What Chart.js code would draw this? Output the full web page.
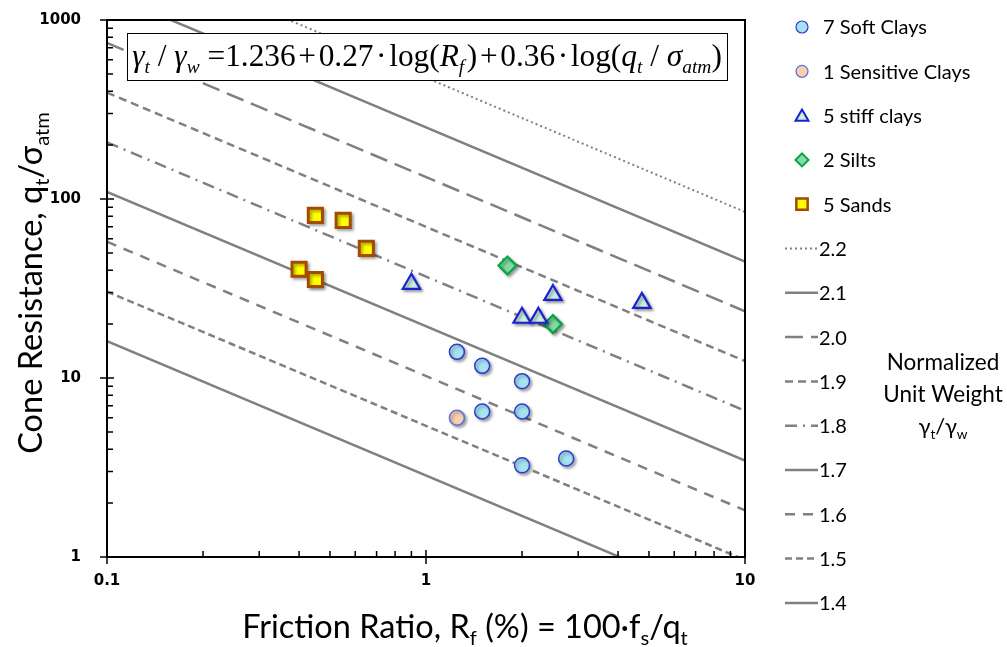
<!DOCTYPE html>
<html><head><meta charset="utf-8">
<script src="https://cdn.jsdelivr.net/npm/chart.js@4.4.1/dist/chart.umd.min.js"></script>
<style>html,body{margin:0;padding:0;background:#fff;}#wrap{width:1007px;height:647px;position:relative;}</style>
</head><body><div id="wrap"><canvas id="c" width="1007" height="647"></canvas></div>
<script>
// ---- data ----
const softClayRf = [1.25, 1.5, 2.0, 1.5, 2.0, 2.0, 2.75];
const softClayQt = [14.0, 11.7, 9.6, 6.5, 6.5, 3.25, 3.55];
const sensClayRf = [1.25];
const sensClayQt = [6.0];
const stiffClayRf = [0.9, 2.5, 2.0, 2.25, 4.75];
const stiffClayQt = [33.6, 29.1, 21.7, 21.7, 26.3];
const siltRf = [1.8, 2.5];
const siltQt = [42.5, 20.0];
const sandRf = [0.45, 0.55, 0.65, 0.40, 0.45];
const sandQt = [81, 76, 53, 40.5, 35.5];
const seriesLabels = ['7 Soft Clays', '1 Sensitive Clays', '5 stiff clays', '2 Silts', '5 Sands'];
const unitWeights = ['2.2', '2.1', '2.0', '1.9', '1.8', '1.7', '1.6', '1.5', '1.4'];
const lineRf = [0.1, 10];
const lineQtAtStart = [2678, 1413, 745, 393, 207.4, 109.4, 57.7, 30.4, 16.05];
const lineQtAtEnd = [84.7, 44.7, 23.6, 12.43, 6.56, 3.46, 1.824, 0.962, 0.507];
const xTicks = [0.1, 1, 10];
const yTicks = [1, 10, 100, 1000];

// ---- styles ----
const GRAY = '#808080';
const lineDashes = [[2, 3], [], [18, 8], [8, 5], [12, 6, 2, 6], [], [10, 8], [7, 4], []];
const lineWidths = [2, 2.5, 2.5, 2.5, 2.5, 2.5, 2.5, 2.5, 2.5];
const markerStyles = [
  {pointStyle: 'circle', r: 7.5, bg: '#A6E3EF', bc: '#2B3BD6', bw: 1.5, lr: 6},
  {pointStyle: 'circle', r: 7.5, bg: '#F9CFAE', bc: '#5B6FE0', bw: 1.5, lr: 6},
  {pointStyle: 'triangle', r: 10, bg: '#CDEFDD', bc: '#1B22D0', bw: 2.2, lr: 7.5},
  {pointStyle: 'rectRot', r: 9, bg: '#83DCA3', bc: '#07A34A', bw: 2.2, lr: 6.5},
  {pointStyle: 'rect', r: 10, bg: '#FFFF00', bc: '#A34A05', bw: 3, lr: 8}
];

const pts = (xs, ys) => xs.map((x, i) => ({x: x, y: ys[i]}));
const markerData = [pts(softClayRf, softClayQt), pts(sensClayRf, sensClayQt), pts(stiffClayRf, stiffClayQt), pts(siltRf, siltQt), pts(sandRf, sandQt)];

const datasets = [];
markerData.forEach((d, i) => {
  const m = markerStyles[i];
  datasets.push({label: seriesLabels[i], data: d, showLine: false, pointStyle: m.pointStyle,
    pointRadius: m.r, pointHoverRadius: m.r, backgroundColor: m.bg, borderColor: m.bc, borderWidth: m.bw, isMarker: true});
});
unitWeights.forEach((u, i) => {
  datasets.push({label: u, data: [{x: lineRf[0], y: lineQtAtStart[i]}, {x: lineRf[1], y: lineQtAtEnd[i]}],
    showLine: true, pointRadius: 0, borderColor: GRAY, borderWidth: lineWidths[i], borderDash: lineDashes[i], fill: false});
});

// ---- text helpers ----
function segFont(s, size, fam) { const sz = s.sub ? size * 0.62 : size; return (s.it ? 'italic ' : '') + sz + 'px ' + (s.fam || fam); }
function richWidth(ctx, segs, size, fam) { let w = 0; for (const s of segs) { ctx.font = segFont(s, size, fam); w += ctx.measureText(s.t).width; } return w; }
function drawRich(ctx, segs, x, y, size, fam, align) {
  const w = richWidth(ctx, segs, size, fam);
  let cx = align === 'center' ? x - w / 2 : (align === 'right' ? x - w : x);
  ctx.textAlign = 'left'; ctx.textBaseline = 'alphabetic';
  for (const s of segs) {
    ctx.font = segFont(s, size, fam);
    ctx.fillText(s.t, cx, y + (s.sub ? size * 0.22 : 0));
    cx += ctx.measureText(s.t).width;
  }
}

function markerPath(ctx, style, x, y, r) {
  ctx.beginPath();
  if (style === 'circle') { ctx.arc(x, y, r, 0, Math.PI * 2); }
  else if (style === 'triangle') {
    ctx.moveTo(x, y - r); ctx.lineTo(x + r * 0.866, y + r * 0.5); ctx.lineTo(x - r * 0.866, y + r * 0.5); ctx.closePath();
  } else if (style === 'rectRot') {
    ctx.moveTo(x - r, y); ctx.lineTo(x, y - r); ctx.lineTo(x + r, y); ctx.lineTo(x, y + r); ctx.closePath();
  } else { const h = r * Math.SQRT1_2; ctx.rect(x - h, y - h, 2 * h, 2 * h); }
}

const LEGEND_TOP = 27, LEGEND_STEP = 44.3;
const plotDecor = {
  id: 'plotDecor',
  beforeDatasetDraw(chart, args) {
    const ds = chart.data.datasets[args.index];
    if (ds.isMarker) {
      const ctx = chart.ctx; ctx.save();
      ctx.shadowColor = 'rgba(0,0,0,0.35)'; ctx.shadowBlur = 3; ctx.shadowOffsetX = 2; ctx.shadowOffsetY = 2;
    }
  },
  afterDatasetDraw(chart, args) {
    const ds = chart.data.datasets[args.index];
    if (ds.isMarker) chart.ctx.restore();
  },
  afterDatasetsDraw(chart) {
    const ctx = chart.ctx, a = chart.chartArea, xs = chart.scales.x, ys = chart.scales.y;
    ctx.save();
    ctx.strokeStyle = '#000'; ctx.lineWidth = 2;
    ctx.strokeRect(a.left, a.top, a.right - a.left, a.bottom - a.top);
    ctx.lineWidth = 1.5; ctx.beginPath();
    for (const v of xTicks) { const px = xs.getPixelForValue(v); ctx.moveTo(px, a.bottom - 7); ctx.lineTo(px, a.bottom + 7); }
    for (const v of yTicks) { const py = ys.getPixelForValue(v); ctx.moveTo(a.left - 7, py); ctx.lineTo(a.left + 7, py); }
    for (let d = 0.1; d < 10; d *= 10) for (let k = 2; k <= 9; k++) { const px = xs.getPixelForValue(d * k); ctx.moveTo(px, a.bottom); ctx.lineTo(px, a.bottom - 6); }
    for (let d = 1; d < 1000; d *= 10) for (let k = 2; k <= 9; k++) { const py = ys.getPixelForValue(d * k); ctx.moveTo(a.left, py); ctx.lineTo(a.left + 6, py); }
    ctx.stroke();
    ctx.restore();
  },
  afterDraw(chart) {
    const ctx = chart.ctx;
    ctx.save();
    // equation box
    const bx = 127, by = 33, bw = 600, bh = 47;
    ctx.fillStyle = '#fff'; ctx.fillRect(bx, by, bw, bh);
    ctx.strokeStyle = '#000'; ctx.lineWidth = 1; ctx.strokeRect(bx + 0.5, by + 0.5, bw, bh);
    ctx.fillStyle = '#000';
    const hs = '\u200A';
    const eq = [
      {t: 'γ', it: 1}, {t: 't', it: 1, sub: 1}, {t: ' / '}, {t: 'γ', it: 1}, {t: 'w', it: 1, sub: 1},
      {t: ' =1.236' + hs + '+' + hs + '0.27' + hs + '·' + hs + 'log('}, {t: 'R', it: 1}, {t: 'f', it: 1, sub: 1},
      {t: hs + ')' + hs + '+' + hs + '0.36' + hs + '·' + hs + 'log('}, {t: 'q', it: 1}, {t: 't', it: 1, sub: 1}, {t: ' / '},
      {t: 'σ', it: 1}, {t: 'atm', it: 1, sub: 1}, {t: ')'}
    ];
    const fam = '"Liberation Serif", "Times New Roman", serif';
    let es = 28; const w0 = richWidth(ctx, eq, es, fam); es = es * 590 / w0;
    drawRich(ctx, eq, bx + bw / 2, by + bh / 2 + es * 0.3, es, fam, 'center');

    // legend
    const lf = '20px Lato';
    markerStyles.forEach((m, i) => {
      const y = LEGEND_TOP + i * LEGEND_STEP;
      markerPath(ctx, m.pointStyle, 802, y + (m.pointStyle === 'triangle' ? 1.5 : 0), m.lr);
      ctx.fillStyle = m.bg; ctx.fill();
      ctx.strokeStyle = m.bc; ctx.lineWidth = m.pointStyle === 'rect' ? 2.5 : (m.pointStyle === 'circle' ? 1.2 : 2);
      ctx.stroke();
      ctx.fillStyle = '#000'; ctx.font = lf; ctx.textAlign = 'left'; ctx.textBaseline = 'middle';
      ctx.fillText(seriesLabels[i], 823, y + 1);
    });
    unitWeights.forEach((u, i) => {
      const y = LEGEND_TOP + (i + 5) * LEGEND_STEP;
      ctx.strokeStyle = GRAY; ctx.lineWidth = lineWidths[i]; ctx.setLineDash(lineDashes[i]);
      ctx.beginPath(); ctx.moveTo(785, y); ctx.lineTo(818, y); ctx.stroke();
      ctx.setLineDash([]);
      ctx.fillStyle = '#000'; ctx.font = lf; ctx.textAlign = 'left'; ctx.textBaseline = 'middle';
      ctx.fillText(u, 819, y + 1);
    });
    // Normalized unit weight label
    ctx.font = '22.5px Lato'; ctx.textAlign = 'center'; ctx.textBaseline = 'middle';
    ctx.fillText('Normalized', 943, 363);
    ctx.fillText('Unit Weight', 943, 395);
    const gw = [{t: 'γ'}, {t: 't', sub: 1}, {t: '/γ'}, {t: 'w', sub: 1}];
    drawRich(ctx, gw, 943, 434, 22, 'Lato', 'center');

    // axis titles
    const tf = 'Lato';
    const xt = [{t: 'Friction Ratio, R'}, {t: 'f', sub: 1}, {t: ' (%) = 100·f'}, {t: 's', sub: 1}, {t: '/q'}, {t: 't', sub: 1}];
    drawRich(ctx, xt, 465, 638, 32.5, tf, 'center');
    const yt = [{t: 'Cone Resistance, q'}, {t: 't', sub: 1}, {t: '/σ'}, {t: 'atm', sub: 1}];
    ctx.translate(31, 283); ctx.rotate(-Math.PI / 2);
    drawRich(ctx, yt, 0, 11, 32.5, tf, 'center');
    ctx.restore();
  }
};

const tickFont = {family: '"DejaVu Sans", Verdana, sans-serif', weight: 'bold', size: 15};
new Chart(document.getElementById('c'), {
  type: 'scatter',
  data: {datasets: datasets},
  options: {
    responsive: false, animation: false, events: [],
    layout: {padding: {top: 20, right: 262, left: 0, bottom: 0}},
    plugins: {legend: {display: false}, tooltip: {enabled: false}},
    scales: {
      x: {type: 'logarithmic', min: 0.1, max: 10,
        afterFit(s) { s.height = 90; s.paddingLeft = 0; s.paddingRight = 0; s.paddingTop = 0; s.paddingBottom = 0; },
        afterBuildTicks(s) { s.ticks = xTicks.map(v => ({value: v, major: true})); },
        grid: {display: false, drawTicks: false}, border: {display: false},
        ticks: {font: tickFont, color: '#000', padding: 15, maxRotation: 0, autoSkip: false, callback: v => String(v)}},
      y: {type: 'logarithmic', min: 1, max: 1000,
        afterFit(s) { s.width = 107; s.paddingLeft = 0; s.paddingRight = 0; s.paddingTop = 0; s.paddingBottom = 0; },
        afterBuildTicks(s) { s.ticks = yTicks.map(v => ({value: v, major: true})); },
        grid: {display: false, drawTicks: false}, border: {display: false},
        ticks: {font: tickFont, color: '#000', padding: 26, autoSkip: false, callback: v => String(v)}}
    }
  },
  plugins: [plotDecor]
});
</script></body></html>
